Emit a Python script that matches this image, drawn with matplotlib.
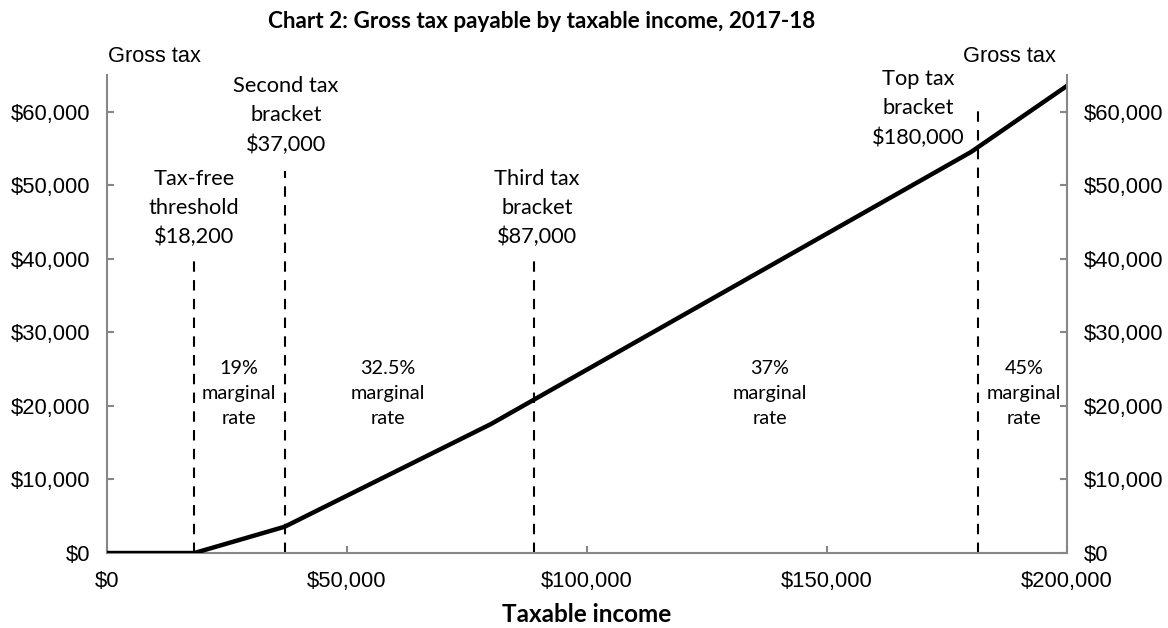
import numpy as np
import matplotlib.pyplot as plt
from matplotlib.ticker import FuncFormatter

# gross tax schedule (taxable income, tax)
income = [0, 18200, 37000, 80000, 180000, 200000]
gross_tax = [0, 0, 3572, 17547, 54547, 63547]

# dashed bracket markers: x position and top of line
bracket_x = [18200, 37000, 89000, 181500]
bracket_top = [40000, 52000, 40000, 61000]
bracket_labels = ['Tax-free\nthreshold\n$18,200', 'Second tax\nbracket\n$37,000',
                  'Third tax\nbracket\n$87,000', 'Top tax\nbracket\n$180,000']
# where the bracket labels sit (centre x, baseline of last line)
label_x = [18100, 37300, 89600, 169000]
label_y = [42100, 54700, 42100, 55650]

# marginal rate notes
rate_labels = ['19%\nmarginal\nrate', '32.5%\nmarginal\nrate',
               '37%\nmarginal\nrate', '45%\nmarginal\nrate']
rate_x = [27500, 58500, 138000, 191000]
rate_y = 17500

x_ticks = [0, 50000, 100000, 150000, 200000]
y_ticks = [0, 10000, 20000, 30000, 40000, 50000, 60000]

calibri = ['Lato', 'DejaVu Sans']
arial = ['Liberation Sans', 'DejaVu Sans']
grey = '#878787'

fig = plt.figure(figsize=(11.68, 6.28), dpi=100)
ax = fig.add_axes([0.0916, 0.1194, 0.822, 0.761])

ax.plot(income, gross_tax, color='black', lw=3.2, solid_joinstyle='miter', zorder=3)
for x, top in zip(bracket_x, bracket_top):
    ax.plot([x, x], [0, top], color='black', lw=1.5, ls=(0, (5, 4)), zorder=2)

for x, y, lab in zip(label_x, label_y, bracket_labels):
    ax.text(x, y, lab, ha='center', va='baseline', fontsize=15.7,
            family=calibri, linespacing=1.56)
for x, lab in zip(rate_x, rate_labels):
    ax.text(x, rate_y, lab, ha='center', va='baseline', fontsize=14.3,
            family=calibri, linespacing=1.58)

ax.set_xlim(0, 200000)
ax.set_ylim(0, 65000)
money = FuncFormatter(lambda v, p: '${:,.0f}'.format(v))
ax.set_xticks(x_ticks)
ax.set_yticks(y_ticks)
ax.xaxis.set_major_formatter(money)
ax.yaxis.set_major_formatter(money)

ax2 = ax.twinx()
ax2.set_ylim(0, 65000)
ax2.set_yticks(y_ticks)
ax2.yaxis.set_major_formatter(money)

for a in (ax, ax2):
    for s in a.spines.values():
        s.set_visible(False)
ax.spines['left'].set_visible(True)
ax.spines['bottom'].set_visible(True)
ax2.spines['right'].set_visible(True)
for s in (ax.spines['left'], ax.spines['bottom'], ax2.spines['right']):
    s.set_color(grey)
    s.set_linewidth(1.5)

for lab in ax.get_xticklabels() + ax.get_yticklabels() + ax2.get_yticklabels():
    lab.set_family(arial)
ax.tick_params(axis='both', direction='in', length=5, width=1.5, color=grey,
               labelsize=15.8)
ax.tick_params(axis='y', pad=12)
ax.tick_params(axis='x', pad=13)
ax2.tick_params(axis='y', direction='in', length=5, width=1.5, color=grey,
                labelsize=15.8, pad=12)

fig.text(0.4636, 0.9554, 'Chart 2: Gross tax payable by taxable income, 2017-18',
         ha='center', va='baseline', fontsize=16.2, fontweight='bold', family=calibri)
fig.text(0.5026, 0.0096, 'Taxable income', ha='center', va='baseline', fontsize=17.5,
         fontweight='bold', family=calibri)
fig.text(0.0925, 0.9013, 'Gross tax', ha='left', va='baseline', fontsize=15.7, family=arial)
fig.text(0.9041, 0.9013, 'Gross tax', ha='right', va='baseline', fontsize=15.7, family=arial)

fig.savefig('out.png', dpi=100)
